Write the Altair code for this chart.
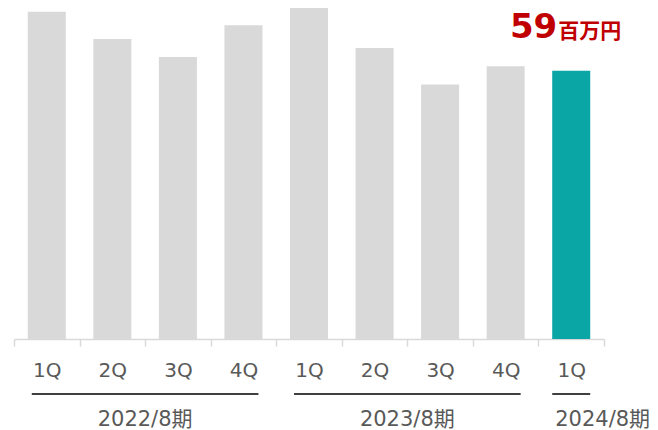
import altair as alt
import pandas as pd

# ---- data ----
fiscal_years = ["2022/8期"] * 4 + ["2023/8期"] * 4 + ["2024/8期"]
fy_codes = ["22"] * 4 + ["23"] * 4 + ["24"]
quarters = ["1Q", "2Q", "3Q", "4Q", "1Q", "2Q", "3Q", "4Q", "1Q"]
values = [72, 66, 62, 69, 75, 64, 56, 60, 59]
unit_label = "百万円"

group_names = ["2022/8期", "2023/8期", "2024/8期"]
group_first = ["22-1Q", "23-1Q", "24-1Q"]
group_last = ["22-4Q", "23-4Q", "24-1Q"]
group_mid = ["22-3Q", "23-3Q", "24-1Q"]

keys = [f"{c}-{q}" for c, q in zip(fy_codes, quarters)]
current_key = keys[-1]

df = pd.DataFrame({"key": keys, "quarter": quarters, "fy": fiscal_years, "value": values})
df["current"] = df["key"] == current_key
groups = pd.DataFrame({"name": group_names, "first": group_first, "last": group_last, "mid": group_mid})

FONT = "DejaVu Sans, Noto Sans CJK JP, sans-serif"
GREY = "#d9d9d9"
TEAL = "#0aa6a6"
RED = "#c00000"
LABEL = "#595959"

xscale = alt.Scale(domain=keys, paddingInner=0, paddingOuter=0)
yscale = alt.Scale(domain=[0, 72.8], nice=False, zero=True)

x_enc = alt.X(
    "key:N",
    scale=xscale,
    sort=keys,
    axis=alt.Axis(
        title=None,
        labelAngle=0,
        labelExpr="substring(datum.label, 3)",
        labelFont=FONT,
        labelFontSize=20,
        labelColor=LABEL,
        labelPadding=14,
        domainColor=GREY,
        domainWidth=1.5,
        tickColor=GREY,
        tickWidth=1.5,
        tickSize=7,
        tickBand="extent",
    ),
)

bars = alt.Chart(df).mark_bar(width=alt.RelativeBandSize(0.58)).encode(
    x=x_enc,
    y=alt.Y("value:Q", scale=yscale, axis=None),
    color=alt.condition(alt.datum.current, alt.value(TEAL), alt.value(GREY)),
)

cur = df[df["current"]]
val_text = alt.Chart(cur).mark_text(
    align="right", baseline="alphabetic", dx=-14, dy=-33,
    font=FONT, fontSize=34, fontWeight="bold", color=RED,
).encode(
    x=alt.X("key:N", scale=xscale),
    y=alt.Y("value:Q", scale=yscale),
    text=alt.Text("value:Q", format="d"),
)
unit_text = alt.Chart(cur).mark_text(
    align="left", baseline="alphabetic", dx=-13, dy=-33, text=unit_label,
    font="Noto Sans CJK JP", fontSize=21, fontWeight="bold", color=RED,
).encode(
    x=alt.X("key:N", scale=xscale),
    y=alt.Y("value:Q", scale=yscale),
)

multi = groups.iloc[:2]
single = groups.iloc[2:]

lines_multi = alt.Chart(multi).mark_rule(xOffset=-15, x2Offset=15, color="#000000", strokeWidth=1.4).encode(
    x=alt.X("first:N", scale=xscale),
    x2="last:N",
    y=alt.value(386),
)
lines_single = alt.Chart(single).mark_rule(xOffset=-19, x2Offset=19, color="#000000", strokeWidth=1.4).encode(
    x=alt.X("first:N", scale=xscale),
    x2="last:N",
    y=alt.value(386),
)

glabels = alt.Chart(multi).mark_text(
    align="center", baseline="middle", font=FONT, fontSize=21, color=LABEL,
).encode(
    x=alt.X("mid:N", scale=xscale, bandPosition=0),
    y=alt.value(412),
    text="name:N",
)
glabel_last = alt.Chart(single).mark_text(
    align="left", baseline="middle", dx=-16, font=FONT, fontSize=21, color=LABEL,
).encode(
    x=alt.X("mid:N", scale=xscale),
    y=alt.value(412),
    text="name:N",
)

chart = alt.layer(bars, val_text, unit_text, lines_multi, lines_single, glabels, glabel_last).properties(
    width=590,
    height=331,
    autosize="none",
    padding={"left": 6, "top": 0, "right": 46, "bottom": 92},
).configure_view(stroke=None)

chart.save("out.html", embed_options={"renderer": "svg", "actions": False})
